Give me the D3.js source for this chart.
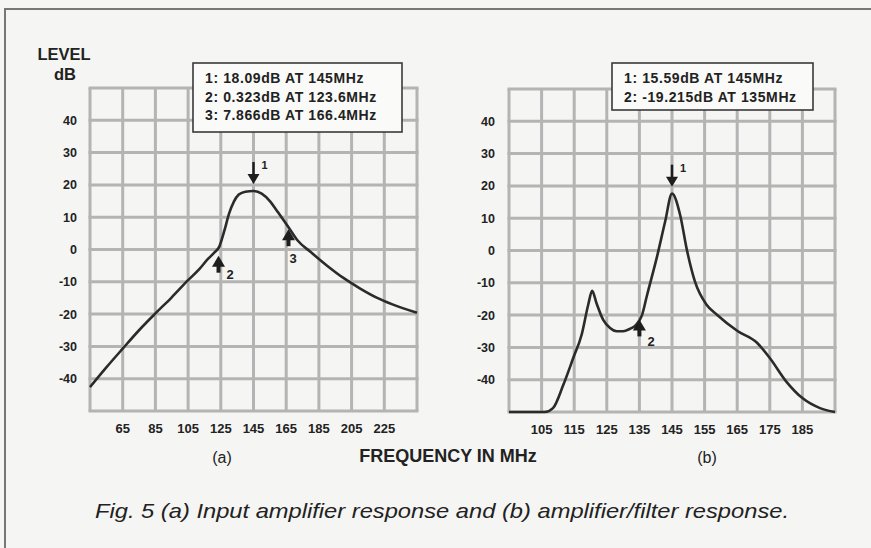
<!DOCTYPE html>
<html><head><meta charset="utf-8">
<script src="https://cdn.jsdelivr.net/npm/d3@7"></script>
<style>
html,body{margin:0;padding:0;background:#f5f5f3;}
svg{display:block;}
text{font-family:"Liberation Sans",Arial,Helvetica,sans-serif;fill:#222;}
</style></head><body>
<svg id="c" width="871" height="548"></svg>
<script>
// ---------- data ----------
const levelTicks = [40, 30, 20, 10, 0, -10, -20, -30, -40];
const freqTicksA = [65, 85, 105, 125, 145, 165, 185, 205, 225];
const freqTicksB = [105, 115, 125, 135, 145, 155, 165, 175, 185];

const freqA  = [45, 55, 65, 75, 85, 95, 105, 112, 117, 121, 124, 127, 130, 133, 136, 140, 145, 150, 155, 160, 166, 172, 180, 190, 200, 210, 220, 230, 245];
const levelA = [-42.6, -36.5, -30.7, -25, -19.8, -14.8, -9.5, -6, -3, -1, 0.8, 5.5, 11, 14.8, 17, 17.9, 18.1, 17.3, 15, 11.5, 7.2, 2.8, -0.8, -5, -8.8, -12, -14.8, -17, -19.6];

const freqB  = [95, 100, 106, 108.5, 111.7, 114.7, 117.3, 119.3, 120.5, 121.9, 123.9, 126, 128, 130, 132, 134, 135.8, 137.3, 140.5, 142.9, 145, 147.5, 149.5, 152, 155.6, 158.7, 165.2, 171, 175, 180, 185, 190.4, 195];
const levelB = [-50, -50, -50, -48.8, -41.5, -33.3, -26, -16.8, -12.5, -16.5, -21.5, -24, -25, -25, -24.3, -23, -20, -14, -1.5, 9, 17.6, 11, 0.5, -9.5, -16.8, -19.8, -25, -28.5, -33.3, -40.5, -45.7, -48.8, -50];

const readoutA = ["1: 18.09dB AT 145MHz", "2: 0.323dB AT 123.6MHz", "3: 7.866dB AT 166.4MHz"];
const readoutB = ["1: 15.59dB AT 145MHz", "2: -19.215dB AT 135MHz"];

const markerFreqA  = [145, 123.6, 166.4];
const markerLabelA = ["1", "2", "3"];
const markerFreqB  = [145, 135];
const markerLabelB = ["1", "2"];

// ---------- layout / style ----------
const svg = d3.select("#c");
const gridColor = "#b4b4b4";
const curveColor = "#2b2b2b";

// frame
svg.append("path").attr("d", "M5,548V9H871").attr("fill", "none")
  .attr("stroke", "#777").attr("stroke-width", 2);

function panel(cfg) {
  const x = d3.scaleLinear().domain(cfg.xDomain).range(cfg.xRange);
  const y = d3.scaleLinear().domain([-50, 50]).range(cfg.yRange);
  const g = svg.append("g");

  const vLines = d3.range(cfg.xDomain[0], cfg.xDomain[1] + 0.001, cfg.step);
  const hLines = d3.range(-50, 50.001, 10);
  g.selectAll(".v").data(vLines).join("line")
    .attr("x1", d => x(d)).attr("x2", d => x(d))
    .attr("y1", y(50)).attr("y2", y(-50))
    .attr("stroke", gridColor).attr("stroke-width", 3);
  g.selectAll(".h").data(hLines).join("line")
    .attr("x1", x.range()[0] - 1.5).attr("x2", x.range()[1] + 1.5)
    .attr("y1", d => y(d)).attr("y2", d => y(d))
    .attr("stroke", gridColor).attr("stroke-width", 3);

  g.selectAll(".yl").data(levelTicks).join("text")
    .attr("x", cfg.yLabelX).attr("y", d => y(d)).attr("dy", "0.36em")
    .attr("text-anchor", "end").attr("font-size", 12.5).attr("font-weight", "bold")
    .text(d => d);
  g.selectAll(".xl").data(cfg.xTicks).join("text")
    .attr("x", d => x(d)).attr("y", cfg.xLabelY)
    .attr("text-anchor", "middle").attr("font-size", 13).attr("font-weight", "bold")
    .text(d => d);

  const pts = cfg.freq.map((f, i) => [f, cfg.level[i]]);
  const line = d3.line().x(d => x(d[0])).y(d => y(d[1])).curve(d3.curveMonotoneX);
  g.append("path").attr("d", line(pts)).attr("fill", "none")
    .attr("stroke", curveColor).attr("stroke-width", 2.6).attr("stroke-linejoin", "round");

  function curveAt(f) {
    const i = d3.bisectLeft(cfg.freq, f);
    if (i <= 0) return cfg.level[0];
    if (i >= cfg.freq.length) return cfg.level[cfg.level.length - 1];
    const f0 = cfg.freq[i - 1], f1 = cfg.freq[i];
    const t = (f - f0) / (f1 - f0);
    return cfg.level[i - 1] + t * (cfg.level[i] - cfg.level[i - 1]);
  }

  cfg.markerFreq.forEach((f, i) => {
    const mx = x(f);
    const cy = y(curveAt(f));
    const st = cfg.markerStyle[i];
    if (st.dir === "down") {
      const tip = cy - st.gap;
      g.append("line").attr("x1", mx).attr("x2", mx).attr("y1", tip - 22).attr("y2", tip - 6)
        .attr("stroke", "#1e1e1e").attr("stroke-width", 2.5);
      g.append("path").attr("d", `M${mx - 6},${tip - 10}L${mx + 6},${tip - 10}L${mx},${tip}Z`).attr("fill", "#1e1e1e");
      g.append("text").attr("x", mx + 8).attr("y", tip - 15).attr("font-size", 11)
        .attr("font-weight", "bold").text(cfg.markerLabel[i]);
    } else {
      const tip = cy + st.gap;
      g.append("path").attr("d", `M${mx - 6.5},${tip + 11}L${mx + 6.5},${tip + 11}L${mx},${tip}Z`).attr("fill", "#1e1e1e");
      g.append("line").attr("x1", mx).attr("x2", mx).attr("y1", tip + 8).attr("y2", tip + 17)
        .attr("stroke", "#1e1e1e").attr("stroke-width", 4);
      g.append("text").attr("x", mx + st.lx).attr("y", tip + st.ly).attr("font-size", 13)
        .attr("font-weight", "bold").attr("fill", "#444").text(cfg.markerLabel[i]);
    }
  });

  const b = cfg.box;
  g.append("rect").attr("x", b[0]).attr("y", b[1]).attr("width", b[2]).attr("height", b[3])
    .attr("fill", "#fafaf8").attr("stroke", "#3a3a3a").attr("stroke-width", 1.6);
  g.selectAll(".rd").data(cfg.readout).join("text")
    .attr("x", b[0] + 12).attr("y", (d, i) => b[1] + 20 + i * 18.5)
    .attr("font-size", 14).attr("font-weight", "bold").attr("fill", "#252525")
    .attr("letter-spacing", 0.6)
    .text(d => d);

  g.append("text").attr("x", cfg.tagX).attr("y", 463).attr("text-anchor", "middle")
    .attr("font-size", 16).text(cfg.tag);
}

panel({
  xDomain: [45, 245], xRange: [90, 417], yRange: [411, 88], step: 20,
  xTicks: freqTicksA, yLabelX: 77, xLabelY: 433,
  freq: freqA, level: levelA,
  markerFreq: markerFreqA, markerLabel: markerLabelA,
  markerStyle: [{dir: "down", gap: 7}, {dir: "up", gap: 8, lx: 8, ly: 23}, {dir: "up", gap: 2, lx: 1, ly: 34}],
  readout: readoutA, box: [193, 63, 209, 69],
  tag: "(a)", tagX: 222
});
panel({
  xDomain: [95, 195], xRange: [509, 835], yRange: [412, 89], step: 10,
  xTicks: freqTicksB, yLabelX: 495, xLabelY: 434,
  freq: freqB, level: levelB,
  markerFreq: markerFreqB, markerLabel: markerLabelB,
  markerStyle: [{dir: "down", gap: 7}, {dir: "up", gap: 0, lx: 8, ly: 27}],
  readout: readoutB, box: [612, 63, 201, 47],
  tag: "(b)", tagX: 707
});

svg.append("text").attr("x", 64).attr("y", 60).attr("text-anchor", "middle")
  .attr("font-size", 16.5).attr("font-weight", "bold").text("LEVEL");
svg.append("text").attr("x", 65).attr("y", 80).attr("text-anchor", "middle")
  .attr("font-size", 16.5).attr("font-weight", "bold").text("dB");
svg.append("text").attr("x", 448).attr("y", 462).attr("text-anchor", "middle")
  .attr("font-size", 18).attr("font-weight", "bold").text("FREQUENCY IN MHz");

svg.append("text").attr("x", 95).attr("y", 518)
  .attr("font-size", 21).attr("font-style", "italic").attr("fill", "#2a2a2a")
  .attr("textLength", 694).attr("lengthAdjust", "spacingAndGlyphs")
  .text("Fig. 5 (a) Input amplifier response and (b) amplifier/filter response.");
</script>
</body></html>
